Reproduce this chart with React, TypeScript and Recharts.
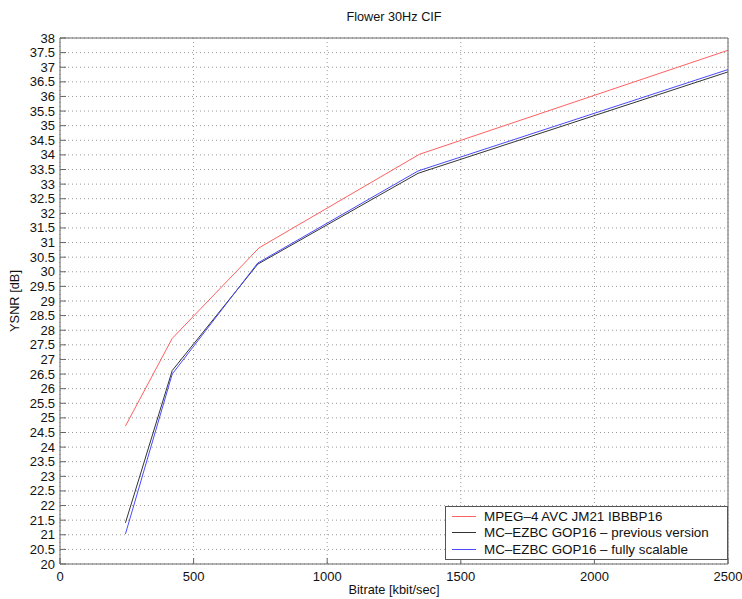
import React from "react";
import { LineChart, Line, XAxis, YAxis, CartesianGrid } from "recharts";

const xTicks = [0, 500, 1000, 1500, 2000, 2500];
const yTicks: number[] = [20, 20.5, 21, 21.5, 22, 22.5, 23, 23.5, 24, 24.5, 25, 25.5, 26, 26.5, 27, 27.5, 28, 28.5, 29, 29.5, 30, 30.5, 31, 31.5, 32, 32.5, 33, 33.5, 34, 34.5, 35, 35.5, 36, 36.5, 37, 37.5, 38];

const avcRate = [245, 420, 745, 1345, 2500];
const avcPsnr = [24.72, 27.72, 30.82, 34.02, 37.58];
const prevRate = [245, 420, 740, 1340, 2500];
const prevPsnr = [21.41, 26.62, 30.26, 33.37, 36.84];
const fullRate = [245, 420, 740, 1340, 2500];
const fullPsnr = [21.03, 26.5, 30.3, 33.45, 36.92];

const seriesNames = [
  "MPEG\u20134 AVC JM21 IBBBP16",
  "MC\u2013EZBC GOP16 \u2013 previous version",
  "MC\u2013EZBC GOP16 \u2013 fully scalable",
];
const colors = ["#ff6060", "#333333", "#4a4aff"];

const toData = (xs: number[], ys: number[]) => xs.map((x, i) => ({ x, y: ys[i] }));
const avcData = toData(avcRate, avcPsnr);
const prevData = toData(prevRate, prevPsnr);
const fullData = toData(fullRate, fullPsnr);

const FONT = "'Liberation Sans', Arial, sans-serif";
const AX = "#666";

const LeftTick = (p: any) => (
  <g>
    <line x1={p.x} x2={p.x + 6} y1={p.y} y2={p.y} stroke={AX} />
    <text x={p.x - 5} y={p.y} dy={4.5} textAnchor="end" fontSize={13} fontFamily={FONT} fill="#111">
      {p.payload.value}
    </text>
  </g>
);
const RightTick = (p: any) => (
  <line x1={p.x - 6} x2={p.x} y1={p.y} y2={p.y} stroke={AX} />
);
const BottomTick = (p: any) => (
  <g>
    <line x1={p.x} x2={p.x} y1={p.y} y2={p.y - 6} stroke={AX} />
    <text x={p.x} y={p.y + 17} textAnchor="middle" fontSize={13} fontFamily={FONT} fill="#111">
      {p.payload.value}
    </text>
  </g>
);
const TopTick = (p: any) => (
  <line x1={p.x} x2={p.x} y1={p.y} y2={p.y + 6} stroke={AX} />
);

export default function App() {
  return (
    <div style={{ position: "absolute", left: 0, top: 0, width: 742, height: 599, background: "#fff" }}>
      <LineChart
        width={742}
        height={599}
        margin={{ top: 37, right: 13, left: 10, bottom: 15 }}
      >
        <CartesianGrid xAxisId="b" yAxisId="l" stroke="#9a9a9a" strokeDasharray="1 3" />
        <XAxis xAxisId="b" dataKey="x" type="number" domain={[0, 2500]} ticks={xTicks} height={20} tickSize={0} tickMargin={0} tickLine={false} axisLine={{ stroke: AX }} tick={<BottomTick />} interval={0} allowDataOverflow />
        <XAxis xAxisId="t" orientation="top" dataKey="x" type="number" domain={[0, 2500]} ticks={xTicks} height={1} tickSize={0} tickMargin={0} tickLine={false} axisLine={{ stroke: AX }} tick={<TopTick />} interval={0} />
        <YAxis yAxisId="l" type="number" domain={[20, 38]} ticks={yTicks} width={50} tickSize={0} tickMargin={0} tickLine={false} axisLine={{ stroke: AX }} tick={<LeftTick />} interval={0} allowDataOverflow />
        <YAxis yAxisId="r" orientation="right" type="number" domain={[20, 38]} ticks={yTicks} width={1} tickSize={0} tickMargin={0} tickLine={false} axisLine={{ stroke: AX }} tick={<RightTick />} interval={0} />
        <Line xAxisId="b" yAxisId="l" data={avcData} dataKey="y" stroke={colors[0]} strokeWidth={1} dot={false} isAnimationActive={false} />
        <Line xAxisId="b" yAxisId="l" data={prevData} dataKey="y" stroke={colors[1]} strokeWidth={1} dot={false} isAnimationActive={false} />
        <Line xAxisId="b" yAxisId="l" data={fullData} dataKey="y" stroke={colors[2]} strokeWidth={1} dot={false} isAnimationActive={false} />
      </LineChart>
      <div style={{ position: "absolute", left: 60, width: 668, top: 10, textAlign: "center", fontFamily: FONT, fontSize: 12.7, color: "#111" }}>
        Flower 30Hz CIF
      </div>
      <div style={{ position: "absolute", left: 60, width: 668, top: 582, textAlign: "center", fontFamily: FONT, fontSize: 12.8, color: "#111" }}>
        Bitrate [kbit/sec]
      </div>
      <div style={{ position: "absolute", left: 15, top: 301, width: 0, height: 0 }}>
        <div style={{ position: "absolute", left: -50, top: -8, width: 100, textAlign: "center", transform: "rotate(-90deg)", fontFamily: FONT, fontSize: 12.8, color: "#111", lineHeight: "16px" }}>
          YSNR [dB]
        </div>
      </div>
      <div style={{ position: "absolute", left: 445, top: 506, width: 283, height: 54, border: "1px solid #555", background: "#fff", boxSizing: "border-box", fontFamily: FONT, fontSize: 13.4, color: "#111", paddingTop: 1 }}>
        {seriesNames.map((n, i) => (
          <div key={n} style={{ display: "flex", alignItems: "center", height: 16.5, paddingLeft: 6 }}>
            <div style={{ width: 24, height: 0, borderTop: `1px solid ${colors[i]}`, marginRight: 8 }} />
            <span style={{ whiteSpace: "nowrap" }}>{n}</span>
          </div>
        ))}
      </div>
    </div>
  );
}
